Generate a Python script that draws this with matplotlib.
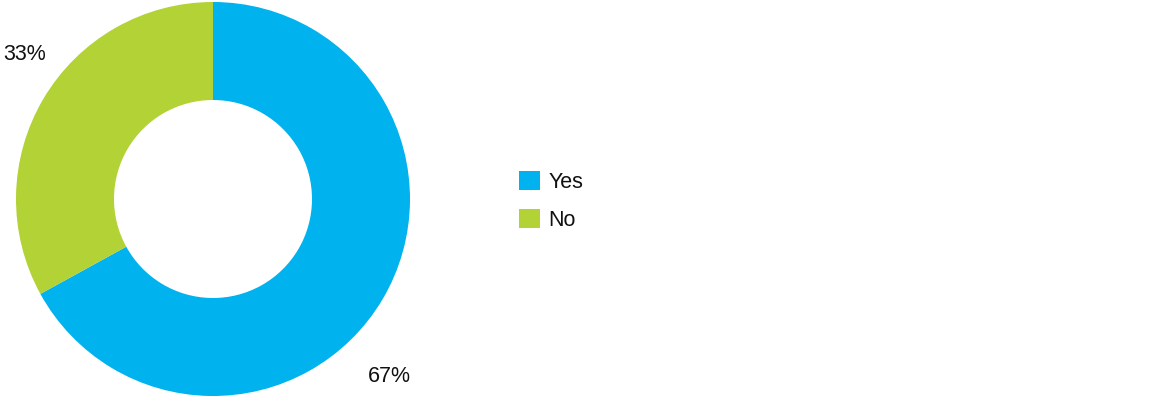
import matplotlib.pyplot as plt

# data
labels = ["Yes", "No"]
values = [67, 33]
colors = ["#00B2EE", "#B2D235"]
pct_text = ["67%", "33%"]

plt.rcParams['font.family'] = ['Liberation Sans', 'DejaVu Sans']

W, H = 1172, 401
fig = plt.figure(figsize=(W / 100, H / 100), dpi=100)
ax = fig.add_axes([0, 0, 1, 1])
ax.set_xlim(0, W)
ax.set_ylim(0, H)
ax.set_aspect('equal')
ax.axis('off')

wedges, _ = ax.pie(values, colors=colors, startangle=90, counterclock=False,
                   center=(213, 202), radius=197,
                   wedgeprops=dict(width=98, edgecolor='none'))
ax.set_xlim(0, W)
ax.set_ylim(0, H)

# data labels
ax.text(389, 25, pct_text[0], ha='center', va='center', fontsize=15.5, color='#111111')
ax.text(25, 346, pct_text[1], ha='center', va='center', fontsize=15.5, color='#111111')

leg = ax.legend(wedges, labels, loc='center left', bbox_to_anchor=(500 / W, 200 / H),
                frameon=False, fontsize=15.5, handlelength=0.95, handleheight=0.95,
                handletextpad=0.4, labelspacing=0.75)
for t in leg.get_texts():
    t.set_color('#111111')

plt.savefig("out.png", dpi=100)
